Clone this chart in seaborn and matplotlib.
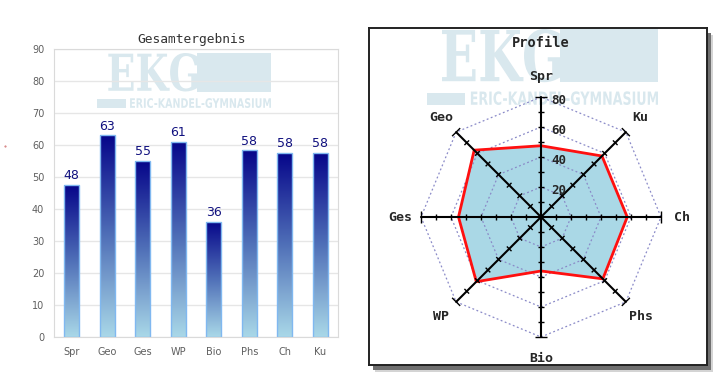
import matplotlib
matplotlib.use('Agg')
import matplotlib.pyplot as plt
import seaborn as sns
import pandas as pd
import numpy as np
from matplotlib.colors import LinearSegmentedColormap
from matplotlib.patches import Rectangle, PathPatch, Polygon
from matplotlib.textpath import TextPath
from matplotlib.font_manager import FontProperties
from matplotlib.transforms import Affine2D
from matplotlib.collections import LineCollection
from matplotlib.lines import Line2D

# data
subjects = ['Spr', 'Geo', 'Ges', 'WP', 'Bio', 'Phs', 'Ch', 'Ku']
scores = [47.5, 63.0, 55.0, 61.0, 36.0, 58.3, 57.5, 57.5]
bar_ticks = [0, 10, 20, 30, 40, 50, 60, 70, 80, 90]
radar_ticks = [20, 40, 60, 80]
radar_max = 80

sns.set_style('white')
plt.rcParams['font.family'] = ['DejaVu Sans']

W, H = 723, 387
fig = plt.figure(figsize=(W / 100, H / 100), dpi=100)


# pixel helpers (origin top left)
def px(x, y):
	return x / W, 1 - y / H


def pxbox(x0, y0, x1, y1):
	return [x0 / W, 1 - y1 / H, (x1 - x0) / W, (y1 - y0) / H]


def fit_text(ax, s, fp, x0, y0, x1, y1, color, z):
	tp = TextPath((0, 0), s, size=50, prop=fp)
	e = tp.get_extents()
	tr = (Affine2D().translate(-e.x0, -e.y0)
		  .scale((x1 - x0) / e.width, (y1 - y0) / e.height)
		  .translate(x0, H - y1)
		  .scale(1 / W, 1 / H) + fig.transFigure)
	ax.add_artist(PathPatch(tp, transform=tr, facecolor=color, edgecolor='none', zorder=z))


def add_rect(ax, x0, y0, x1, y1, color, z):
	ax.add_artist(Rectangle(px(x0, y1), (x1 - x0) / W, (y1 - y0) / H, transform=fig.transFigure,
							facecolor=color, edgecolor='none', zorder=z))


# school logo watermark
def logo(ax, x0, y0, w, h, z):
	c = '#d9e8ee'
	fit_text(ax, 'EKG', FontProperties(family='DejaVu Serif', weight='bold'),
			 x0 + 0.065 * w, y0, x0 + 0.58 * w, y0 + 0.70 * h, c, z)
	add_rect(ax, x0 + 0.575 * w, y0, x0 + w, y0 + 0.70 * h, c, z)
	add_rect(ax, x0, y0 + 0.84 * h, x0 + 0.165 * w, y0 + h, c, z)
	fit_text(ax, 'ERIC-KANDEL-GYMNASIUM', FontProperties(family='DejaVu Sans', weight='bold'),
			 x0 + 0.19 * w, y0 + 0.82 * h, x0 + w, y0 + h, c, z)


# ---------------- bar chart ----------------
ax1 = fig.add_axes(pxbox(54, 49, 338, 337))
df = pd.DataFrame({'subject': subjects, 'score': scores})
sns.barplot(data=df, x='subject', y='score', ax=ax1, width=0.42, color='#000080',
			edgecolor='#80b8f0', linewidth=1, zorder=2)

cmap = LinearSegmentedColormap.from_list('bars', ['#a9d8e8', '#5070b8', '#06068a'])
grad = np.linspace(1, 0, 256).reshape(-1, 1)
for bar in ax1.patches:
	x, y = bar.get_xy()
	w, h = bar.get_width(), bar.get_height()
	im = ax1.imshow(grad, extent=[x, x + w, y, y + h], aspect='auto', cmap=cmap, zorder=1.9)
	im.set_clip_path(bar)
	bar.set_facecolor('none')

for i, v in enumerate(scores):
	ax1.text(i, v + 0.9, str(int(np.floor(v + 0.5))), ha='center', va='bottom',
			 color='#10107f', fontsize=9, zorder=3)

ax1.set_xlim(-0.5, 7.5)
ax1.set_ylim(0, 90)
ax1.set_yticks(bar_ticks)
ax1.set_xlabel('')
ax1.set_ylabel('')
ax1.set_axisbelow(True)
ax1.grid(axis='y', color='#e6e6e6', lw=1)
for sp in ax1.spines.values():
	sp.set_color('#dadada')
ax1.tick_params(length=0, labelsize=7, labelcolor='#5f5f5f', pad=7)
logo(ax1, 97, 53, 174, 55, 0.3)
fig.text(*px(192, 40), 'Gesamtergebnis', ha='center', va='center', family='DejaVu Sans Mono',
		 fontsize=9.3, color='#333333')

# stray dot
fig.add_artist(Line2D([5 / W], [1 - 146 / H], marker='.', ms=1, color='#d07070',
					  transform=fig.transFigure))

# ---------------- radar chart ----------------
bx0, by0, bx1, by1 = 369, 28, 707, 365
cx, cy, s = 541, 217, 1.5

# shadow
fig.add_artist(Rectangle(px(bx0 + 6, by1 + 7), (bx1 - bx0) / W, (by1 - by0) / H,
						 transform=fig.transFigure, facecolor='#d4d4d4', edgecolor='none', zorder=-2))
fig.add_artist(Rectangle(px(bx0 + 4, by1 + 5), (bx1 - bx0) / W, (by1 - by0) / H,
						 transform=fig.transFigure, facecolor='#707070', edgecolor='none', zorder=-1))

ax2 = fig.add_axes(pxbox(bx0, by0, bx1, by1))
ax2.set_facecolor('white')
ax2.set_xlim((bx0 - cx) / s, (bx1 - cx) / s)
ax2.set_ylim((cy - by1) / s, (cy - by0) / s)
ax2.set_xticks([])
ax2.set_yticks([])
for sp in ax2.spines.values():
	sp.set_color('#222222')
	sp.set_linewidth(1.4)
logo(ax2, 427, 29, 231, 76, 0.5)

ang = np.deg2rad(90 + 45 * np.arange(len(subjects)))
dx, dy = np.cos(ang), np.sin(ang)
sc = np.array(scores)

# value area
ax2.fill(sc * dx, sc * dy, color='#aad8e6', zorder=1)

# dotted grid
for r in radar_ticks:
	ax2.add_patch(Polygon(np.c_[r * dx, r * dy], closed=True, fill=False, ec='#8a8ac8',
						  lw=0.9, ls=(0, (1.5, 2)), zorder=2))

ax2.plot(np.r_[sc * dx, sc[0] * dx[0]], np.r_[sc * dy, sc[0] * dy[0]], color='#ff1010', lw=2, zorder=3)

# spokes and tick marks
segs = []
for a, b in zip(dx, dy):
	ax2.plot([0, radar_max * a], [0, radar_max * b], color='black', lw=1.5, zorder=4)
	for v in range(10, radar_max + 1, 10):
		L = 3.8 if v == radar_max else 2.2
		segs.append([(v * a - L * b, v * b + L * a), (v * a + L * b, v * b - L * a)])
ax2.add_collection(LineCollection(segs, colors='black', lw=1, zorder=4))

for v in radar_ticks:
	ax2.text(7, v - 2, str(v), ha='left', va='center', family='DejaVu Sans Mono',
			 fontweight='bold', fontsize=9, zorder=5)

for name, a, b in zip(subjects, dx, dy):
	ax2.text(94 * a, 94 * b, name, ha='center', va='center', family='DejaVu Sans Mono',
			 fontweight='bold', fontsize=9.5, zorder=5)

fig.text(*px(541, 43), 'Profile', ha='center', va='center', family='DejaVu Sans Mono',
		 fontweight='bold', fontsize=9.8)

fig.savefig('out.png', dpi=100)
